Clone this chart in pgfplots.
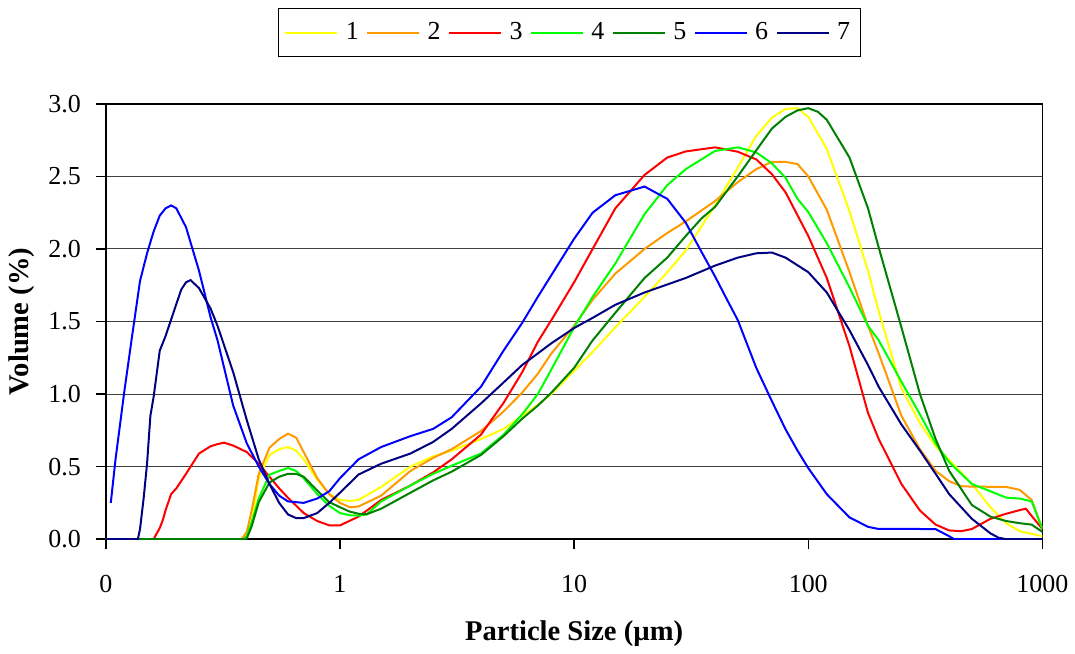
\documentclass[border=0pt]{standalone}
\usepackage{pgfplots}
\pgfplotsset{compat=1.18}
\usepackage{fontspec}
\setmainfont{Liberation Serif}

\definecolor{cYellow}{RGB}{255,255,0}
\definecolor{cOrange}{RGB}{255,153,0}
\definecolor{cRed}{RGB}{255,0,0}
\definecolor{cLime}{RGB}{0,255,0}
\definecolor{cGreen}{RGB}{0,128,0}
\definecolor{cBlue}{RGB}{0,0,255}
\definecolor{cNavy}{RGB}{0,0,128}

\newcommand{\chartfont}{\fontsize{13}{15.5}\selectfont}
\newcommand{\labelfont}{\fontsize{14.3}{17}\selectfont}

\begin{document}
\begin{tikzpicture}
\begin{axis}[
  name=ax,
  scale only axis,
  width=469pt, height=218pt,
  xmode=log, log basis x=10,
  xmin=0.1, xmax=1000,
  ymin=0, ymax=3,
  xtick={0.1,1,10,100,1000},
  xticklabels={0,1,10,100,1000},
  minor xtick={},
  ytick={0,0.5,1,1.5,2,2.5,3},
  /pgf/number format/assume math mode=true,
  yticklabel style={/pgf/number format/fixed, /pgf/number format/fixed zerofill, /pgf/number format/precision=1, xshift=-4pt},
  tick pos=left,
  tick align=outside,
  major tick length=5pt,
  tick style={black, line width=0.7pt},
  axis line style={black, line width=0.8pt},
  ymajorgrids,
  grid style={black!75, line width=0.5pt},
  tick label style={font=\chartfont},
  xticklabel style={yshift=-9.5pt},
  xlabel={\textbf{Particle Size (µm)}},
  ylabel={\textbf{Volume (\%)}},
  label style={font=\labelfont},
  xlabel style={at={(axis description cs:0.5,-0.218)}, anchor=center},
  ylabel style={at={(axis description cs:-0.0896,0.5)}, anchor=center},
  legend columns=7,
  legend style={
    at={(axis description cs:0.495,1.22)}, anchor=north,
    draw=black, line width=0.6pt,
    font=\chartfont,
    column sep=1.6pt,
    inner xsep=3pt, inner ysep=5pt,
    nodes={inner xsep=2.15pt},
  },
  legend image code/.code={\draw[#1, line width=1pt] (0pt,0pt) -- (26pt,0pt);},
  every axis plot/.append style={line width=1pt},
]
% 1
\addplot[cYellow] coordinates {
(0.1,0) (0.38,0) (0.4,0.03) (0.42,0.12) (0.45,0.42) (0.5,0.58) (0.55,0.62) (0.6,0.635) (0.65,0.61) (0.7,0.55)
(0.8,0.41) (0.9,0.31) (1,0.27) (1.1,0.264) (1.2,0.27) (1.5,0.36) (2,0.50) (2.5,0.57) (3,0.61) (4,0.69)
(5,0.76) (6,0.85) (7,0.926) (8,1.00) (10,1.16) (12,1.29) (15,1.46) (20,1.67) (25,1.84) (30,1.99)
(40,2.30) (50,2.56) (60,2.78) (70,2.905) (80,2.965) (90,2.97) (100,2.91) (120,2.69) (150,2.26) (180,1.85)
(200,1.57) (250,1.04) (300,0.80) (350,0.64) (400,0.546) (500,0.38) (600,0.22) (700,0.11) (800,0.055) (1000,0.02)
};
% 2
\addplot[cOrange] coordinates {
(0.1,0) (0.38,0) (0.4,0.05) (0.42,0.2) (0.45,0.45) (0.5,0.63) (0.55,0.69) (0.6,0.727) (0.65,0.70) (0.7,0.60)
(0.8,0.42) (0.9,0.31) (1,0.25) (1.1,0.22) (1.2,0.225) (1.5,0.30) (2,0.47) (2.5,0.56) (3,0.62) (4,0.745)
(5,0.88) (6,1.01) (7,1.14) (8,1.28) (10,1.47) (12,1.65) (15,1.83) (20,2.00) (25,2.11) (30,2.19)
(40,2.33) (50,2.46) (60,2.55) (70,2.60) (80,2.60) (90,2.585) (100,2.50) (120,2.27) (150,1.84) (180,1.47)
(200,1.28) (250,0.85) (300,0.62) (350,0.47) (400,0.40) (450,0.365) (500,0.362) (700,0.36) (800,0.34) (900,0.27) (1000,0.07)
};
% 3
\addplot[cRed] coordinates {
(0.1,0) (0.16,0) (0.17,0.077) (0.175,0.13) (0.18,0.20) (0.19,0.31) (0.2,0.35) (0.22,0.45) (0.25,0.59) (0.28,0.64)
(0.3,0.655) (0.32,0.665) (0.35,0.645) (0.4,0.60) (0.45,0.52) (0.5,0.43) (0.55,0.35) (0.6,0.285) (0.7,0.18) (0.8,0.125)
(0.9,0.095) (1,0.095) (1.2,0.155) (1.5,0.27) (2,0.37) (2.5,0.46) (3,0.55) (4,0.72) (5,0.94) (6,1.15)
(7,1.36) (8,1.51) (10,1.77) (12,2.00) (15,2.28) (20,2.51) (25,2.63) (30,2.672) (40,2.70) (50,2.67)
(60,2.617) (70,2.515) (80,2.39) (100,2.09) (120,1.80) (150,1.33) (180,0.87) (200,0.69) (250,0.38) (300,0.197)
(350,0.10) (400,0.06) (450,0.055) (500,0.07) (600,0.14) (700,0.175) (800,0.20) (850,0.21) (900,0.16) (1000,0.07)
};
% 4
\addplot[cLime] coordinates {
(0.1,0) (0.39,0) (0.4,0.02) (0.42,0.12) (0.45,0.28) (0.5,0.445) (0.55,0.47) (0.6,0.49) (0.65,0.47) (0.7,0.42)
(0.8,0.31) (0.9,0.23) (1,0.18) (1.1,0.165) (1.2,0.162) (1.3,0.17) (1.5,0.26) (2,0.37) (2.5,0.45) (3,0.506)
(4,0.59) (5,0.72) (6,0.86) (7,1.00) (8,1.17) (10,1.46) (12,1.67) (15,1.90) (20,2.24) (25,2.44)
(30,2.55) (40,2.675) (50,2.70) (60,2.665) (70,2.59) (80,2.49) (90,2.345) (100,2.255) (120,2.04) (150,1.735)
(180,1.47) (200,1.37) (250,1.085) (300,0.86) (350,0.66) (400,0.53) (500,0.38) (600,0.33) (700,0.286) (800,0.28) (900,0.26) (1000,0.07)
};
% 5
\addplot[cGreen] coordinates {
(0.1,0) (0.39,0) (0.4,0.005) (0.42,0.09) (0.45,0.255) (0.5,0.39) (0.55,0.43) (0.6,0.45) (0.65,0.45) (0.7,0.43)
(0.8,0.335) (0.9,0.255) (1,0.22) (1.1,0.19) (1.2,0.175) (1.3,0.172) (1.5,0.21) (2,0.32) (2.5,0.405) (3,0.465)
(4,0.58) (5,0.71) (6,0.83) (7,0.92) (8,1.01) (10,1.18) (12,1.37) (15,1.56) (20,1.80) (25,1.94)
(30,2.09) (35,2.21) (40,2.29) (50,2.50) (60,2.68) (70,2.83) (80,2.91) (90,2.955) (100,2.97) (110,2.945)
(120,2.89) (150,2.63) (180,2.28) (200,2.01) (250,1.46) (300,1.00) (350,0.69) (400,0.47) (500,0.235) (600,0.155)
(700,0.125) (800,0.11) (900,0.10) (1000,0.05)
};
% 6
\addplot[cBlue] coordinates {
(0.105,0.25) (0.11,0.55) (0.12,1.02) (0.13,1.42) (0.14,1.78) (0.15,1.97) (0.16,2.12) (0.17,2.23) (0.18,2.28) (0.19,2.30)
(0.2,2.28) (0.22,2.15) (0.25,1.85) (0.28,1.53) (0.3,1.37) (0.35,0.92) (0.4,0.66) (0.45,0.50) (0.5,0.38) (0.55,0.30)
(0.6,0.26) (0.7,0.25) (0.8,0.28) (0.9,0.33) (1,0.42) (1.2,0.55) (1.5,0.635) (2,0.71) (2.5,0.76) (3,0.84)
(4,1.05) (5,1.30) (6,1.49) (7,1.67) (8,1.82) (10,2.07) (12,2.25) (15,2.37) (20,2.43) (25,2.345)
(30,2.18) (35,1.98) (40,1.81) (45,1.65) (50,1.51) (60,1.18) (70,0.95) (80,0.757) (90,0.61) (100,0.49)
(120,0.31) (150,0.15) (180,0.085) (200,0.07) (300,0.07) (350,0.069) (400,0.02) (420,0) (1000,0)
};
% 7
\addplot[cNavy] coordinates {
(0.1,0) (0.137,0) (0.14,0.07) (0.145,0.28) (0.15,0.52) (0.155,0.85) (0.16,0.98) (0.17,1.30) (0.18,1.40) (0.2,1.62)
(0.21,1.72) (0.22,1.77) (0.23,1.785) (0.25,1.73) (0.28,1.59) (0.3,1.47) (0.35,1.15) (0.4,0.82) (0.45,0.55) (0.5,0.38)
(0.55,0.25) (0.6,0.17) (0.65,0.145) (0.7,0.145) (0.8,0.18) (0.9,0.25) (1,0.32) (1.2,0.445) (1.5,0.52) (2,0.59)
(2.5,0.67) (3,0.76) (4,0.935) (5,1.08) (6,1.20) (7,1.28) (8,1.35) (10,1.455) (12,1.525) (15,1.615)
(20,1.70) (25,1.755) (30,1.80) (40,1.885) (50,1.94) (60,1.97) (70,1.975) (80,1.94) (100,1.84) (120,1.70)
(150,1.44) (180,1.20) (200,1.05) (250,0.79) (300,0.61) (350,0.45) (400,0.31) (500,0.14) (600,0.04) (650,0.01) (700,0) (1000,0)
};
\legend{1,2,3,4,5,6,7}
\end{axis}
% page margins as in the reference
\path ([xshift=-53pt,yshift=52pt]ax.north west) ([xshift=15.5pt,yshift=-55.5pt]ax.south east);
\end{tikzpicture}
\end{document}
